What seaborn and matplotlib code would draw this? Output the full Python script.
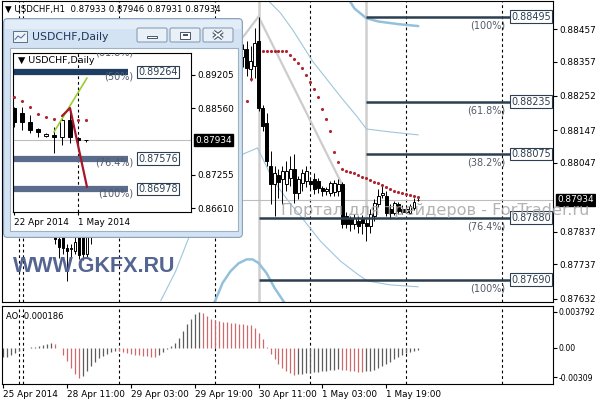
import numpy as np
import seaborn as sns
import matplotlib.pyplot as plt
from matplotlib.patches import Rectangle, FancyBboxPatch

sns.set_style("white")
plt.rcParams['font.family'] = ['DejaVu Sans']
plt.rcParams['text.color'] = 'black'

W, H = 596, 400

# ---------------- H1 data (bar 0 = 28 Apr 2014 00:00) ----------------
bars = list(range(-5, 100))
opens = [0.87860, 0.87845, 0.87850, 0.87860, 0.87855, 0.87840, 0.87850, 0.87860, 0.87870, 0.87865,
         0.87875, 0.87880, 0.87870, 0.87850, 0.87815, 0.87820, 0.87788, 0.87785, 0.87779, 0.87840,
         0.87830, 0.87770, 0.87820, 0.87860, 0.87890, 0.87910, 0.87930, 0.87920, 0.87910, 0.87900,
         0.87890, 0.87880, 0.87870, 0.87880, 0.87890, 0.87875, 0.87885, 0.87905, 0.87930, 0.87970,
         0.88020, 0.88070, 0.88120, 0.88180, 0.88230, 0.88270, 0.88310, 0.88340, 0.88350, 0.88330,
         0.88320, 0.88340, 0.88330, 0.88320, 0.88310, 0.88330, 0.88350, 0.88340, 0.88330, 0.88350,
         0.88370, 0.88396, 0.88335, 0.88344, 0.88420, 0.88216, 0.88170, 0.88038, 0.87983, 0.88011,
         0.87998, 0.87983, 0.88001, 0.88029, 0.87955, 0.87986, 0.87992, 0.87992, 0.87998, 0.87992,
         0.87970, 0.87961, 0.87955, 0.87958, 0.87961, 0.87983, 0.87885, 0.87876, 0.87860, 0.87870,
         0.87879, 0.87864, 0.87854, 0.87885, 0.87922, 0.87949, 0.87946, 0.87906, 0.87894, 0.87922,
         0.87906, 0.87897, 0.87894, 0.87909, 0.87933]
highs = [0.87880, 0.87870, 0.87875, 0.87880, 0.87870, 0.87865, 0.87870, 0.87885, 0.87890, 0.87885,
         0.87895, 0.87900, 0.87885, 0.87860, 0.87825, 0.87830, 0.87800, 0.87800, 0.87830, 0.87850,
         0.87850, 0.87830, 0.87870, 0.87900, 0.87930, 0.87950, 0.87960, 0.87950, 0.87940, 0.87930,
         0.87920, 0.87910, 0.87900, 0.87910, 0.87920, 0.87900, 0.87920, 0.87940, 0.87980, 0.88030,
         0.88080, 0.88130, 0.88190, 0.88250, 0.88290, 0.88330, 0.88360, 0.88380, 0.88390, 0.88370,
         0.88360, 0.88370, 0.88360, 0.88350, 0.88350, 0.88370, 0.88380, 0.88370, 0.88370, 0.88390,
         0.88410, 0.88420, 0.88405, 0.88460, 0.88495, 0.88225, 0.88200, 0.88084, 0.88038, 0.88029,
         0.88038, 0.88053, 0.88068, 0.88074, 0.88007, 0.88029, 0.88038, 0.88004, 0.88016, 0.88001,
         0.87977, 0.87973, 0.87992, 0.87995, 0.87998, 0.87989, 0.87897, 0.87885, 0.87891, 0.87885,
         0.87888, 0.87876, 0.87906, 0.87937, 0.87967, 0.87983, 0.87961, 0.87922, 0.87931, 0.87928,
         0.87918, 0.87915, 0.87922, 0.87940, 0.87946]
lows = [0.87830, 0.87825, 0.87835, 0.87840, 0.87830, 0.87825, 0.87835, 0.87845, 0.87855, 0.87850,
        0.87860, 0.87865, 0.87840, 0.87800, 0.87757, 0.87770, 0.87687, 0.87757, 0.87770, 0.87754,
        0.87750, 0.87760, 0.87800, 0.87840, 0.87870, 0.87890, 0.87900, 0.87890, 0.87880, 0.87870,
        0.87860, 0.87850, 0.87840, 0.87860, 0.87860, 0.87850, 0.87870, 0.87890, 0.87910, 0.87950,
        0.88000, 0.88050, 0.88100, 0.88160, 0.88200, 0.88240, 0.88280, 0.88300, 0.88310, 0.88290,
        0.88290, 0.88310, 0.88300, 0.88290, 0.88280, 0.88300, 0.88320, 0.88310, 0.88300, 0.88320,
        0.88340, 0.88313, 0.88298, 0.88307, 0.88206, 0.88145, 0.88038, 0.87922, 0.87886, 0.87941,
        0.87922, 0.87961, 0.87977, 0.87925, 0.87937, 0.87961, 0.87973, 0.87967, 0.87952, 0.87955,
        0.87946, 0.87949, 0.87946, 0.87946, 0.87946, 0.87848, 0.87848, 0.87839, 0.87845, 0.87833,
        0.87830, 0.87808, 0.87833, 0.87870, 0.87912, 0.87940, 0.87885, 0.87876, 0.87888, 0.87891,
        0.87891, 0.87894, 0.87891, 0.87903, 0.87931]
closes = [0.87845, 0.87850, 0.87860, 0.87855, 0.87840, 0.87850, 0.87860, 0.87870, 0.87865, 0.87875,
          0.87880, 0.87870, 0.87850, 0.87815, 0.87790, 0.87788, 0.87779, 0.87788, 0.87805, 0.87765,
          0.87770, 0.87820, 0.87860, 0.87890, 0.87910, 0.87930, 0.87920, 0.87910, 0.87900, 0.87890,
          0.87880, 0.87870, 0.87880, 0.87890, 0.87875, 0.87885, 0.87905, 0.87930, 0.87970, 0.88020,
          0.88070, 0.88120, 0.88180, 0.88230, 0.88270, 0.88310, 0.88340, 0.88350, 0.88330, 0.88320,
          0.88340, 0.88330, 0.88320, 0.88310, 0.88330, 0.88350, 0.88340, 0.88330, 0.88350, 0.88370,
          0.88396, 0.88338, 0.88359, 0.88414, 0.88216, 0.88161, 0.88054, 0.87983, 0.88017, 0.87990,
          0.88022, 0.88022, 0.88029, 0.87955, 0.87998, 0.88016, 0.88022, 0.87983, 0.87967, 0.87970,
          0.87961, 0.87967, 0.87986, 0.87986, 0.87983, 0.87860, 0.87860, 0.87860, 0.87879, 0.87854,
          0.87864, 0.87854, 0.87891, 0.87925, 0.87946, 0.87955, 0.87894, 0.87894, 0.87925, 0.87900,
          0.87897, 0.87906, 0.87915, 0.87928, 0.87934]

# Awesome Oscillator, one value per bar
ao = [-0.0010, -0.0009, -0.0007, -0.0005, -0.0003,
      -0.0001, 0.0000, 0.0001, 0.00015, 0.0002, 0.0003, 0.0004, 0.0005, 0.0004,
      0.0000, -0.0007, -0.0014, -0.0021, -0.0027, -0.0032,
      -0.0029, -0.0024, -0.0019, -0.0015, -0.0011, -0.0008, -0.0006, -0.0004, -0.0003,
      -0.00035, -0.00045, -0.00055, -0.00062, -0.00070, -0.00076, -0.00082, -0.00087, -0.00091, -0.00094,
      -0.0007, -0.0004, -0.0001, 0.0002,
      0.0005, 0.0011, 0.0018, 0.0025, 0.0031, 0.0036, 0.003792,
      0.0037, 0.0034, 0.0031, 0.0029, 0.0028, 0.00275, 0.0027, 0.00265, 0.0026, 0.00255,
      0.0025, 0.00245, 0.0024, 0.0021, 0.0016, 0.0009, 0.0001,
      -0.0006, -0.0012, -0.0017, -0.0021, -0.0024, -0.0026, -0.0028,
      -0.00275, -0.0027, -0.00265, -0.0026, -0.00255, -0.0025, -0.00245, -0.0024, -0.00235, -0.0023, -0.00225,
      -0.0023, -0.00235, -0.0024, -0.00245, -0.0025, -0.00252,
      -0.00245, -0.0024, -0.0023, -0.0021, -0.0019, -0.0017, -0.0015, -0.0012, -0.0009, -0.0007,
      -0.0005, -0.0004, -0.0003, -0.000186]

# Parabolic SAR dots
sar_bars = [56, 57] + list(range(60, 100))
sar_vals = [0.88237, 0.88304,
            0.88390, 0.88390, 0.88390, 0.88390, 0.88390, 0.88390, 0.88390,
            0.88377, 0.88365, 0.88353, 0.88338, 0.88316, 0.88295, 0.88273, 0.88249, 0.88212, 0.88182,
            0.88145, 0.88081, 0.88050, 0.88029, 0.88022, 0.88019, 0.88016, 0.88010, 0.88004, 0.88001,
            0.87995, 0.87989, 0.87986, 0.87980, 0.87973, 0.87967, 0.87961, 0.87958, 0.87955, 0.87952,
            0.87949, 0.87946, 0.87943]

# band-like indicator lines
upper_thin_x = [59, 61.5, 64.5, 67.75, 72.5, 80, 83.75, 86, 92, 99]
upper_thin_y = [0.88610, 0.88543, 0.88506, 0.88451, 0.88359, 0.88243, 0.88188, 0.88151, 0.88142, 0.88133]
lower_thin_x = [34.5, 38.25, 42, 48.25, 55.25, 58.75, 62.75, 67, 69.5, 74.5, 79.5, 83.75, 86.25, 92, 99]
lower_thin_y = [0.87625, 0.87716, 0.87833, 0.88007, 0.88075, 0.88093, 0.87992, 0.87922, 0.87885,
                0.87808, 0.87747, 0.87707, 0.87686, 0.87674, 0.87668]
thick_top_x = [81, 83, 86, 89, 94, 99]
thick_top_y = [0.88560, 0.88520, 0.88490, 0.88480, 0.88472, 0.88466]
thick_bot_x = [47.75, 50, 52, 54, 56, 57.5, 59, 61, 63, 66]
thick_bot_y = [0.87614, 0.87680, 0.87716, 0.87740, 0.87752, 0.87752, 0.87741, 0.87710, 0.87665, 0.87610]

# grey trend lines
trend_x = [59, 80.5]
trend_y = [0.88495, 0.87967]
trend2_x = [50, 59]
trend2_y = [0.88350, 0.88495]

# fibonacci levels
fib_vals = [0.88495, 0.88235, 0.88075, 0.87880, 0.87690]
fib_names = ['(100%)', '(61.8%)', '(38.2%)', '(76.4%)', '(100%)']
fib_start = [86, 86, 86, 59, 59]
fib_end = 122

price_ticks = [0.88457, 0.88357, 0.88252, 0.88147, 0.88047, 0.87837, 0.87737, 0.87632]
sep_bars = [-1, 0, 24, 48, 72, 96, 120]
time_bars = [-5, 11, 27, 43, 59, 75, 91]
time_labels = ['25 Apr 2014', '28 Apr 11:00', '29 Apr 03:00', '29 Apr 19:00',
               '30 Apr 11:00', '1 May 03:00', '1 May 19:00']
last_close = 0.87934

# ---------------- Daily data (inset) ----------------
days = ['22 Apr', '23 Apr', '24 Apr', '25 Apr', '27 Apr', '28 Apr', '29 Apr', '30 Apr', '1 May', '2 May']
d_open = [0.88556, 0.88458, 0.88294, 0.88152, 0.88016, 0.88035, 0.87990, 0.88328, 0.87971, 0.87928]
d_high = [0.88587, 0.88587, 0.88425, 0.88166, 0.88068, 0.88197, 0.88392, 0.88495, 0.88002, 0.87947]
d_low = [0.88197, 0.88133, 0.88068, 0.87990, 0.88002, 0.87678, 0.87840, 0.87873, 0.87807, 0.87908]
d_close = [0.88294, 0.88294, 0.88133, 0.88099, 0.88055, 0.87990, 0.88328, 0.87990, 0.87928, 0.87934]
d_sar_x = [0, 1, 2, 3, 4, 5, 8, 9]
d_sar_y = [0.88776, 0.88698, 0.88581, 0.88445, 0.88386, 0.88347, 0.88328, 0.88328]
d_green_x = [5, 9.125]
d_green_y = [0.88094, 0.89147]
d_red_x = [6, 7, 9.125]
d_red_y = [0.88405, 0.88561, 0.87021]
d_fib_vals = [0.89264, 0.87576, 0.86978]
d_fib_names = ['(50%)', '(76.4%)', '(100%)']
d_ticks = [0.89205, 0.88560, 0.87255, 0.86610]


def box(x0, y0, x1, y1):
    return [x0 / W, 1 - y1 / H, (x1 - x0) / W, (y1 - y0) / H]


def candles(ax, x, o, h, l, c, width, lw):
    x, o, h, l, c = map(np.asarray, (x, o, h, l, c))
    ax.vlines(x, l, h, color='black', lw=lw, zorder=3)
    up = c >= o
    ax.bar(x[up], (c - o)[up], bottom=o[up], width=width, color='white',
           edgecolor='black', lw=lw, zorder=4)
    ax.bar(x[~up], (c - o)[~up], bottom=o[~up], width=width, color='black',
           edgecolor='black', lw=lw, zorder=4)


def frame(ax):
    for s in ax.spines.values():
        s.set_visible(True)
        s.set_color('black')
        s.set_linewidth(0.8)


fig = plt.figure(figsize=(5.96, 4.0), dpi=100)
fig.patch.set_facecolor('white')

# ---------------- main H1 chart ----------------
ax = fig.add_axes(box(2, 1, 553, 302))
ax.set_xlim(-5.25, 132.75)
ax.set_ylim(0.876216, 0.885427)
frame(ax)

for s in sep_bars:
    ax.axvline(s, color='black', lw=0.8, ls=(0, (2.5, 2.5)), zorder=1)
ax.axhline(last_close, color='#bdbdbd', lw=0.8, zorder=2)
ax.axvline(59, color='#cfcfcf', lw=1.8, zorder=1)
ax.vlines(86, fib_vals[3], 0.8860, color='#cfcfcf', lw=1.8, zorder=1)

sns.lineplot(x=trend_x, y=trend_y, ax=ax, color='#cccccc', lw=1.6, zorder=2)
sns.lineplot(x=trend2_x, y=trend2_y, ax=ax, color='#cccccc', lw=1.6, zorder=2)
sns.lineplot(x=upper_thin_x, y=upper_thin_y, ax=ax, color='#9fc6dc', lw=0.8, zorder=2)
sns.lineplot(x=lower_thin_x, y=lower_thin_y, ax=ax, color='#9fc6dc', lw=0.8, zorder=2)
sns.lineplot(x=thick_top_x, y=thick_top_y, ax=ax, color='#93c1db', lw=1.8, zorder=2)
sns.lineplot(x=thick_bot_x, y=thick_bot_y, ax=ax, color='#93c1db', lw=1.8, zorder=2)

candles(ax, bars, opens, highs, lows, closes, width=0.62, lw=0.7)
sns.scatterplot(x=sar_bars, y=sar_vals, ax=ax, color='#b3232f', s=5, linewidth=0, zorder=6)

for v, name, s in zip(fib_vals, fib_names, fib_start):
    ax.hlines(v, s, fib_end, color='#2c3e50', lw=1.8, zorder=5)
    ax.text(fib_end - 1.3, v - 0.00027, name, ha='right', va='center', fontsize=7,
            color='#525c68', zorder=6)
    ax.text(fib_end + 0.35, v, f'{v:.5f}', ha='left', va='center', fontsize=6.9,
            color='#2c3e50', zorder=7,
            bbox=dict(boxstyle='square,pad=0.12', fc='white', ec='#2c3e50', lw=0.8))

ax.set_xticks([])
ax.yaxis.tick_right()
ax.set_yticks(price_ticks)
ax.set_yticklabels([f'{p:.5f}' for p in price_ticks])
ax.tick_params(axis='y', right=True, left=False, length=3, width=0.8, pad=1.5,
               labelsize=6.4, colors='black')
ax.text(1 + 4 / 551, last_close, f'{last_close:.5f}', transform=ax.get_yaxis_transform(),
        ha='left', va='center', fontsize=6.4, color='white', clip_on=False, zorder=8,
        bbox=dict(boxstyle='square,pad=0.15', fc='black', ec='black'))
ax.set_xlabel('')
ax.set_ylabel('')

# ---------------- AO panel ----------------
ax2 = fig.add_axes(box(2, 306, 553, 384))
ax2.set_xlim(-5.25, 132.75)
ax2.set_ylim(-0.00379, 0.00442)
frame(ax2)
for s in sep_bars:
    ax2.axvline(s, color='black', lw=0.8, ls=(0, (2.5, 2.5)), zorder=1)
ao_arr = np.array(ao)
prev = np.r_[ao_arr[0], ao_arr[:-1]]
cols = np.where(ao_arr < prev, '#cf6a6a', '#5c5c5c')
ax2.vlines(bars, 0, ao_arr, colors=cols, lw=0.9, zorder=2)
ax2.yaxis.tick_right()
ax2.set_yticks([0.003792, 0.0, -0.00309])
ax2.set_yticklabels(['0.003792', '0.00', '-0.00309'])
ax2.tick_params(axis='y', right=True, left=False, length=3, width=0.8, pad=1.2,
                labelsize=5.6, colors='black')
ax2.set_xticks(time_bars)
ax2.set_xticklabels(time_labels, ha='left')
ax2.tick_params(axis='x', bottom=True, length=3, width=0.8, pad=1.5, labelsize=6.4,
                colors='black')
ax2.text(4 / 551, 0.87, 'AO -0.000186', transform=ax2.transAxes, fontsize=6,
         va='center', ha='left')

# ---------------- inset window chrome ----------------
win = fig.add_axes(box(3, 18, 243, 238))
win.set_xlim(3, 243)
win.set_ylim(238, 18)
win.axis('off')
win.add_patch(FancyBboxPatch((3.6, 18.6), 238.8, 218.8, boxstyle='round,pad=0,rounding_size=4',
                             fc='#d3e3f4', ec='#87a0bb', lw=0.8))
win.add_patch(Rectangle((5, 19.5), 236, 9, fc='#e2edf8', ec='none'))
win.add_patch(Rectangle((9.5, 47.5), 228, 183.5, fc='white', ec='#9db0c4', lw=0.8))
win.add_patch(Rectangle((13, 31), 14, 11, fc='#eef3f8', ec='#5a6f86', lw=0.7))
win.plot([15, 18, 21, 25], [39.5, 36, 38, 34], color='#3b6aa0', lw=0.7)
win.text(32, 36.5, 'USDCHF,Daily', fontsize=7.8, color='#1e3556', va='center')
for bx in (137, 170, 203):
    win.add_patch(FancyBboxPatch((bx, 28), 30, 14, boxstyle='round,pad=0,rounding_size=1.5',
                                 fc='#e9f0f8', ec='#7e93ab', lw=0.7))
win.add_patch(Rectangle((147, 35.5), 10, 2.5, fc='white', ec='#44566a', lw=0.7))
win.add_patch(Rectangle((180, 31.5), 10, 7, fc='white', ec='#44566a', lw=0.7))
win.add_patch(Rectangle((182.5, 34), 5, 2.2, fc='#44566a', ec='none'))
for lw_, c_ in ((2.8, '#44566a'), (1.2, 'white')):
    win.plot([213.5, 222.5], [31.5, 38.5], color=c_, lw=lw_, solid_capstyle='butt')
    win.plot([213.5, 222.5], [38.5, 31.5], color=c_, lw=lw_, solid_capstyle='butt')

# ---------------- inset daily chart ----------------
axd = fig.add_axes(box(13, 53, 191, 212))
axd.set_xlim(-0.125, 22.125)
axd.set_ylim(0.865335, 0.89634)
frame(axd)
axd.axvline(8, color='black', lw=0.8, ls=(0, (2.5, 2.5)), zorder=1)
axd.axhline(last_close, color='#bdbdbd', lw=0.8, zorder=2)
fib_cols = ['#1e3d63', '#5b6b8c', '#5b6b8c']
for v, name, c_ in zip(d_fib_vals, d_fib_names, fib_cols):
    axd.hlines(v, -0.125, 14.25, color=c_, lw=4.5, zorder=2)
    axd.text(14.9, v - 0.0008, name, ha='right', va='center', fontsize=7, color='#525c68')
    axd.text(15.55, v, f'{v:.5f}', ha='left', va='center', fontsize=6.9, color='#2c3e50',
             zorder=7, bbox=dict(boxstyle='square,pad=0.12', fc='white', ec='#2c3e50', lw=0.8))
axd.text(14.9, 0.89650, '(61.8%)', ha='right', va='center', fontsize=7, color='#525c68',
         clip_on=True)
candles(axd, list(range(len(days))), d_open, d_high, d_low, d_close, width=0.55, lw=0.7)
sns.lineplot(x=d_green_x, y=d_green_y, ax=axd, color='#9acd32', lw=1.2, zorder=5)
sns.lineplot(x=d_red_x, y=d_red_y, ax=axd, color='#a5162a', lw=1.6, zorder=5)
sns.scatterplot(x=d_sar_x, y=d_sar_y, ax=axd, color='#b3232f', s=5, linewidth=0, zorder=6)
axd.yaxis.tick_right()
axd.set_yticks(d_ticks)
axd.set_yticklabels([f'{p:.5f}' for p in d_ticks])
axd.tick_params(axis='y', right=True, left=False, length=3, width=0.8, pad=1.5,
                labelsize=6.4, colors='black')
axd.set_xticks([0, 8])
axd.set_xticklabels(['22 Apr 2014', '1 May 2014'], ha='left')
axd.tick_params(axis='x', bottom=True, length=2.5, width=0.8, pad=1.5, labelsize=6.4,
                colors='black')
axd.text(1 + 4 / 178, last_close, f'{last_close:.5f}', transform=axd.get_yaxis_transform(),
         ha='left', va='center', fontsize=6.4, color='white', clip_on=False, zorder=8,
         bbox=dict(boxstyle='square,pad=0.15', fc='black', ec='black'))
axd.text(0.028, 0.95, '\u25bc USDCHF,Daily', transform=axd.transAxes, fontsize=6.8,
         va='center', ha='left')
axd.set_xlabel('')
axd.set_ylabel('')

# ---------------- header and watermarks ----------------
fig.text(5 / W, 1 - 9 / H, '\u25bc USDCHF,H1  0.87933 0.87946 0.87931 0.87934',
         fontsize=6.2, va='center', ha='left')
fig.text(281 / W, 1 - 211 / H, 'Портал для трейдеров - ForTrader.ru', fontsize=11.6,
         color='#a6a6a6', alpha=0.85, va='center', ha='left')
fig.text(13 / W, 1 - 266 / H, 'WWW.GKFX.RU', fontsize=15.5, fontweight='bold',
         color='#536590', family='Liberation Sans', va='center', ha='left')

fig.savefig('out.png', dpi=100, facecolor='white')
